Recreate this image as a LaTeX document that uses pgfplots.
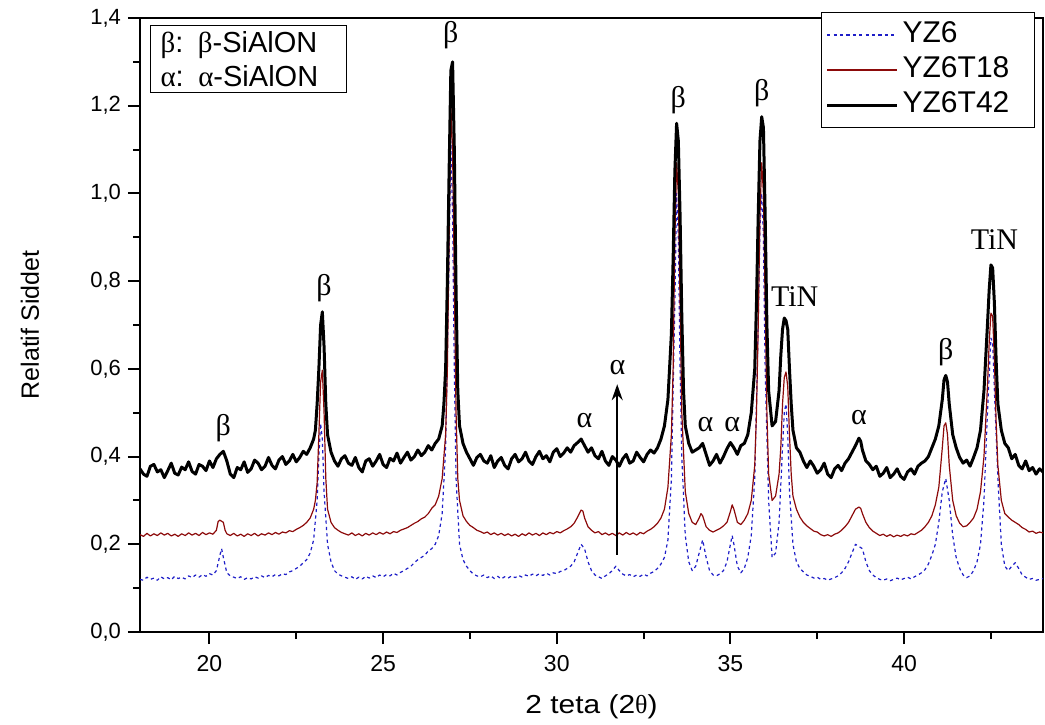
\documentclass[border=0pt]{standalone}
\usepackage{fontspec}
\setmainfont{Liberation Sans}
\newfontfamily\serif{Liberation Serif}
\newfontfamily\widesans[FakeStretch=1.15]{Liberation Sans}
\usepackage{pgfplots}
\pgfplotsset{compat=1.18}
\usetikzlibrary{arrows.meta}

\definecolor{yzblue}{RGB}{30,30,200}
\definecolor{yzred}{RGB}{140,10,10}

\begin{document}
\begin{tikzpicture}
\begin{axis}[
    scale only axis,
    width=451.5pt, height=307pt,
    xmin=18, xmax=44, ymin=0, ymax=1.4,
    xtick={20,25,30,35,40},
    minor xtick={22.5,27.5,32.5,37.5,42.5},
    ytick={0,0.2,...,1.4},
    minor ytick={0.1,0.3,...,1.3},
    xtick pos=bottom, ytick pos=left,
    tick align=outside,
    major tick length=6pt, minor tick length=3.5pt,
    every tick/.style={line width=1pt, black},
    axis line style={line width=1.2pt},
    /pgf/number format/assume math mode=true,
    yticklabel style={font=\fontsize{11}{12}\selectfont, /pgf/number format/.cd, use comma, fixed, fixed zerofill, precision=1},
    xticklabel style={font=\fontsize{11.5}{12}\selectfont, yshift=-2pt},
    ylabel={Relatif Siddet},
    ylabel style={font=\fontsize{12.5}{14}\selectfont, at={(axis description cs:-0.122,0.5)}, anchor=center},
    xlabel={2 teta (2{\serif θ})},
    xlabel style={font=\widesans\fontsize{13}{14}\selectfont, at={(axis description cs:0.5,-0.122)}, anchor=center},
    legend style={at={(axis description cs:0.7542,1.0098)}, anchor=north west,
        draw=black, line width=0.6pt, font=\fontsize{15}{16}\selectfont,
        inner xsep=2pt, inner ysep=2pt, row sep=-1pt,
        nodes={text height=11pt, text depth=3.5pt}},
    legend cell align=left,
    legend image code/.code={\draw[#1] (0pt,0pt) -- (35pt,0pt);},
    every axis plot/.append style={line join=round},
]
\coordinate (sw) at (rel axis cs:0,0);
\coordinate (ne) at (rel axis cs:1,1);

% YZ6
\addplot[yzblue, line width=0.6pt, dash pattern=on 1.6pt off 1.6pt] coordinates {
(18.0,.120)(18.1,.118)(18.2,.125)(18.3,.120)(18.4,.123)(18.5,.118)(18.6,.126)(18.7,.121)(18.8,.124)(18.9,.119)
(19.0,.127)(19.1,.122)(19.2,.125)(19.3,.121)(19.4,.128)(19.5,.124)(19.6,.130)(19.7,.125)(19.8,.131)(19.9,.127)
(20.0,.133)(20.1,.130)(20.2,.140)(20.3,.175)(20.35,.190)(20.4,.170)(20.5,.135)(20.6,.128)(20.7,.125)(20.8,.122)
(20.9,.126)(21.0,.120)(21.1,.124)(21.2,.121)(21.3,.126)(21.4,.123)(21.5,.128)(21.6,.124)(21.7,.129)(21.8,.126)
(21.9,.131)(22.0,.128)(22.1,.133)(22.2,.131)(22.3,.137)(22.4,.140)(22.5,.145)(22.6,.150)(22.7,.158)(22.8,.165)
(22.9,.180)(23.0,.210)(23.1,.300)(23.15,.400)(23.2,.475)(23.25,.440)(23.3,.320)(23.4,.200)(23.5,.160)(23.6,.140)
(23.7,.132)(23.8,.128)(23.9,.125)(24.0,.122)(24.1,.126)(24.2,.120)(24.3,.125)(24.4,.121)(24.5,.127)(24.6,.123)
(24.7,.128)(24.8,.124)(24.9,.130)(25.0,.126)(25.1,.131)(25.2,.128)(25.3,.134)(25.4,.130)(25.5,.136)(25.6,.140)
(25.7,.145)(25.8,.150)(25.9,.158)(26.0,.165)(26.1,.170)(26.2,.175)(26.3,.185)(26.4,.190)(26.5,.200)(26.6,.220)
(26.7,.270)(26.8,.420)(26.9,.850)(26.95,1.12)(27.0,.950)(27.05,.600)(27.1,.350)(27.2,.200)(27.3,.165)(27.4,.150)
(27.5,.140)(27.6,.132)(27.7,.128)(27.8,.126)(27.9,.130)(28.0,.124)(28.1,.128)(28.2,.122)(28.3,.127)(28.4,.121)
(28.5,.126)(28.6,.123)(28.7,.128)(28.8,.124)(28.9,.129)(29.0,.125)(29.1,.130)(29.2,.127)(29.3,.132)(29.4,.128)
(29.5,.133)(29.6,.129)(29.7,.134)(29.8,.130)(29.9,.135)(30.0,.133)(30.1,.138)(30.2,.140)(30.3,.145)(30.4,.150)
(30.5,.160)(30.6,.180)(30.7,.200)(30.8,.190)(30.9,.160)(31.0,.140)(31.1,.130)(31.2,.126)(31.3,.122)(31.4,.128)
(31.5,.133)(31.6,.140)(31.7,.150)(31.8,.140)(31.9,.132)(32.0,.128)(32.1,.131)(32.2,.126)(32.3,.130)(32.4,.127)
(32.5,.132)(32.6,.128)(32.7,.134)(32.8,.138)(32.9,.145)(33.0,.155)(33.1,.170)(33.2,.210)(33.3,.350)(33.4,.750)
(33.45,1.00)(33.5,.900)(33.55,.600)(33.6,.400)(33.7,.220)(33.8,.160)(33.9,.140)(34.0,.150)(34.1,.180)(34.2,.210)
(34.3,.170)(34.4,.140)(34.5,.130)(34.6,.128)(34.7,.133)(34.8,.140)(34.9,.160)(35.0,.200)(35.05,.220)(35.1,.200)
(35.2,.150)(35.3,.135)(35.4,.145)(35.5,.170)(35.6,.220)(35.7,.350)(35.8,.700)(35.85,.920)(35.9,1.00)(35.95,.900)
(36.0,.600)(36.1,.300)(36.2,.170)(36.3,.180)(36.4,.250)(36.5,.420)(36.55,.500)(36.6,.520)(36.65,.450)(36.7,.320)
(36.8,.200)(36.9,.160)(37.0,.145)(37.1,.137)(37.2,.130)(37.3,.127)(37.4,.123)(37.5,.125)(37.6,.120)(37.7,.122)
(37.8,.118)(37.9,.121)(38.0,.124)(38.1,.128)(38.2,.135)(38.3,.145)(38.4,.160)(38.5,.180)(38.6,.200)(38.7,.195)
(38.8,.190)(38.9,.160)(39.0,.140)(39.1,.130)(39.2,.124)(39.3,.120)(39.4,.118)(39.5,.121)(39.6,.117)(39.7,.120)
(39.8,.123)(39.9,.119)(40.0,.122)(40.1,.125)(40.2,.121)(40.3,.126)(40.4,.130)(40.5,.135)(40.6,.142)(40.7,.155)
(40.8,.175)(40.9,.200)(41.0,.250)(41.1,.320)(41.2,.350)(41.3,.300)(41.4,.220)(41.5,.170)(41.6,.145)(41.7,.130)
(41.8,.124)(41.9,.128)(42.0,.140)(42.1,.160)(42.2,.200)(42.3,.300)(42.4,.500)(42.5,.670)(42.55,.660)(42.6,.550)
(42.7,.350)(42.8,.200)(42.9,.150)(43.0,.140)(43.1,.150)(43.2,.158)(43.3,.145)(43.4,.130)(43.5,.125)(43.6,.120)
(43.7,.122)(43.8,.118)(43.9,.120)(44.0,.122)};
\addlegendentry{\makebox[62pt][l]{YZ6}}

% YZ6T18
\addplot[yzred, line width=0.6pt] coordinates {
(18.0,.222)(18.1,.218)(18.2,.225)(18.3,.219)(18.4,.224)(18.5,.220)(18.6,.226)(18.7,.221)(18.8,.225)(18.9,.219)
(19.0,.223)(19.1,.218)(19.2,.224)(19.3,.220)(19.4,.226)(19.5,.221)(19.6,.225)(19.7,.220)(19.8,.227)(19.9,.222)
(20.0,.226)(20.1,.223)(20.2,.232)(20.25,.252)(20.3,.255)(20.4,.250)(20.45,.232)(20.5,.224)(20.6,.220)(20.7,.225)
(20.8,.219)(20.9,.223)(21.0,.218)(21.1,.224)(21.2,.220)(21.3,.225)(21.4,.219)(21.5,.224)(21.6,.221)(21.7,.226)
(21.8,.222)(21.9,.227)(22.0,.223)(22.1,.228)(22.2,.226)(22.3,.231)(22.4,.229)(22.5,.234)(22.6,.238)(22.7,.243)
(22.8,.250)(22.9,.260)(23.0,.280)(23.05,.300)(23.1,.340)(23.15,.450)(23.2,.570)(23.25,.597)(23.3,.500)(23.35,.350)
(23.4,.280)(23.5,.250)(23.6,.238)(23.7,.232)(23.8,.227)(23.9,.224)(24.0,.221)(24.1,.226)(24.2,.220)(24.3,.224)
(24.4,.219)(24.5,.225)(24.6,.221)(24.7,.226)(24.8,.222)(24.9,.227)(25.0,.223)(25.1,.228)(25.2,.224)(25.3,.229)
(25.4,.227)(25.5,.232)(25.6,.235)(25.7,.238)(25.8,.243)(25.9,.248)(26.0,.252)(26.1,.258)(26.2,.262)(26.3,.270)
(26.4,.282)(26.5,.290)(26.6,.310)(26.7,.350)(26.8,.450)(26.85,.600)(26.9,.900)(26.95,1.20)(27.0,1.10)(27.05,.800)
(27.1,.500)(27.15,.350)(27.2,.300)(27.3,.265)(27.4,.252)(27.5,.243)(27.6,.238)(27.7,.232)(27.8,.229)(27.9,.225)
(28.0,.228)(28.1,.222)(28.2,.226)(28.3,.221)(28.4,.225)(28.5,.220)(28.6,.224)(28.7,.219)(28.8,.223)(28.9,.218)
(29.0,.224)(29.1,.220)(29.2,.226)(29.3,.221)(29.4,.225)(29.5,.220)(29.6,.226)(29.7,.222)(29.8,.227)(29.9,.224)
(30.0,.229)(30.1,.226)(30.2,.231)(30.3,.235)(30.4,.240)(30.5,.248)(30.6,.262)(30.7,.278)(30.75,.276)(30.8,.260)
(30.9,.240)(31.0,.232)(31.1,.226)(31.2,.229)(31.3,.222)(31.4,.226)(31.5,.221)(31.6,.225)(31.7,.220)(31.8,.226)
(31.9,.221)(32.0,.227)(32.1,.222)(32.2,.226)(32.3,.221)(32.4,.227)(32.5,.224)(32.6,.230)(32.7,.234)(32.8,.240)
(32.9,.248)(33.0,.260)(33.1,.280)(33.2,.330)(33.3,.450)(33.35,.600)(33.4,.900)(33.45,1.07)(33.5,1.00)(33.55,.750)
(33.6,.500)(33.7,.320)(33.8,.270)(33.9,.250)(34.0,.245)(34.1,.260)(34.15,.270)(34.2,.265)(34.3,.240)(34.4,.232)
(34.5,.228)(34.6,.232)(34.7,.236)(34.8,.242)(34.9,.250)(35.0,.275)(35.05,.290)(35.1,.280)(35.2,.250)(35.3,.245)
(35.4,.255)(35.5,.270)(35.6,.300)(35.7,.380)(35.75,.500)(35.8,.700)(35.85,.950)(35.9,1.07)(35.95,1.00)(36.0,.750)
(36.05,.500)(36.1,.360)(36.2,.300)(36.3,.310)(36.4,.360)(36.45,.420)(36.5,.520)(36.55,.580)(36.6,.593)(36.65,.560)
(36.7,.450)(36.75,.360)(36.8,.310)(36.9,.280)(37.0,.262)(37.1,.250)(37.2,.242)(37.3,.236)(37.4,.230)(37.5,.228)
(37.6,.222)(37.7,.219)(37.8,.222)(37.9,.218)(38.0,.223)(38.1,.226)(38.2,.232)(38.3,.240)(38.4,.250)(38.5,.265)
(38.6,.280)(38.7,.285)(38.75,.282)(38.8,.270)(38.9,.250)(39.0,.238)(39.1,.230)(39.2,.225)(39.3,.220)(39.4,.223)
(39.5,.218)(39.6,.222)(39.7,.217)(39.8,.221)(39.9,.218)(40.0,.222)(40.1,.219)(40.2,.224)(40.3,.222)(40.4,.227)
(40.5,.232)(40.6,.240)(40.7,.250)(40.8,.265)(40.9,.290)(41.0,.330)(41.1,.420)(41.15,.470)(41.2,.477)(41.25,.450)
(41.3,.380)(41.4,.300)(41.5,.265)(41.6,.248)(41.7,.240)(41.8,.242)(41.9,.250)(42.0,.260)(42.1,.280)(42.2,.320)
(42.3,.400)(42.4,.560)(42.45,.660)(42.5,.727)(42.55,.720)(42.6,.620)(42.65,.480)(42.7,.380)(42.8,.300)(42.9,.270)
(43.0,.262)(43.1,.255)(43.2,.250)(43.3,.245)(43.4,.238)(43.5,.234)(43.6,.228)(43.7,.230)(43.8,.225)(43.9,.228)
(44.0,.226)};
\addlegendentry{\makebox[62pt][l]{YZ6T18}}

% YZ6T42
\addplot[black, line width=1.5pt] coordinates {
(18.0,.372)(18.1,.360)(18.2,.355)(18.3,.378)(18.4,.382)(18.5,.365)(18.6,.370)(18.7,.352)(18.8,.368)(18.9,.385)
(19.0,.362)(19.1,.358)(19.2,.376)(19.3,.370)(19.4,.388)(19.5,.366)(19.6,.360)(19.7,.382)(19.8,.378)(19.9,.368)
(20.0,.390)(20.1,.375)(20.2,.395)(20.3,.405)(20.4,.412)(20.5,.390)(20.6,.360)(20.7,.352)(20.8,.375)(20.9,.370)
(21.0,.388)(21.1,.364)(21.2,.372)(21.3,.392)(21.4,.385)(21.5,.370)(21.6,.378)(21.7,.398)(21.8,.380)(21.9,.372)
(22.0,.392)(22.1,.400)(22.2,.382)(22.3,.390)(22.4,.405)(22.5,.388)(22.6,.398)(22.7,.412)(22.8,.405)(22.9,.420)
(23.0,.440)(23.05,.460)(23.1,.520)(23.15,.600)(23.2,.700)(23.25,.730)(23.3,.650)(23.35,.520)(23.4,.450)(23.5,.410)
(23.6,.390)(23.7,.378)(23.8,.395)(23.9,.402)(24.0,.385)(24.1,.380)(24.2,.398)(24.3,.375)(24.4,.365)(24.5,.390)
(24.6,.395)(24.7,.378)(24.8,.390)(24.9,.405)(25.0,.382)(25.1,.375)(25.2,.396)(25.3,.390)(25.4,.408)(25.5,.385)
(25.6,.398)(25.7,.410)(25.8,.392)(25.9,.400)(26.0,.415)(26.1,.402)(26.2,.410)(26.3,.425)(26.4,.415)(26.5,.430)
(26.6,.440)(26.7,.470)(26.75,.520)(26.8,.600)(26.85,.800)(26.9,1.05)(26.95,1.28)(27.0,1.30)(27.05,1.10)(27.1,.780)
(27.15,.550)(27.2,.470)(27.3,.430)(27.4,.410)(27.5,.395)(27.6,.380)(27.7,.398)(27.8,.405)(27.9,.390)(28.0,.385)
(28.1,.402)(28.2,.375)(28.3,.390)(28.4,.398)(28.5,.380)(28.6,.372)(28.7,.395)(28.8,.405)(28.9,.388)(29.0,.395)
(29.1,.410)(29.2,.390)(29.3,.382)(29.4,.400)(29.5,.412)(29.6,.395)(29.7,.402)(29.8,.388)(29.9,.410)(30.0,.418)
(30.1,.400)(30.2,.408)(30.3,.420)(30.4,.410)(30.5,.425)(30.6,.432)(30.7,.440)(30.8,.425)(30.9,.410)(31.0,.420)
(31.1,.402)(31.2,.395)(31.3,.412)(31.4,.390)(31.5,.380)(31.6,.400)(31.7,.392)(31.8,.378)(31.9,.395)(32.0,.405)
(32.1,.385)(32.2,.390)(32.3,.410)(32.4,.398)(32.5,.388)(32.6,.405)(32.7,.415)(32.8,.408)(32.9,.420)(33.0,.440)
(33.1,.470)(33.2,.530)(33.3,.680)(33.35,.850)(33.4,1.05)(33.45,1.16)(33.5,1.12)(33.55,.950)(33.6,.720)(33.65,.550)
(33.7,.470)(33.8,.430)(33.9,.410)(34.0,.415)(34.1,.420)(34.2,.430)(34.3,.405)(34.4,.380)(34.5,.390)(34.6,.405)
(34.7,.385)(34.8,.400)(34.9,.418)(35.0,.432)(35.1,.420)(35.2,.405)(35.3,.425)(35.4,.430)(35.5,.450)(35.6,.500)
(35.7,.600)(35.75,.750)(35.8,.950)(35.85,1.12)(35.9,1.175)(35.95,1.15)(36.0,.950)(36.05,.700)(36.1,.550)(36.2,.470)
(36.3,.480)(36.4,.550)(36.45,.630)(36.5,.690)(36.55,.716)(36.6,.710)(36.65,.690)(36.7,.600)(36.75,.520)(36.8,.460)
(36.9,.420)(37.0,.410)(37.1,.390)(37.2,.375)(37.3,.390)(37.4,.378)(37.5,.362)(37.6,.370)(37.7,.385)(37.8,.360)
(37.9,.352)(38.0,.372)(38.1,.380)(38.2,.368)(38.3,.385)(38.4,.395)(38.5,.410)(38.6,.425)(38.7,.442)(38.75,.435)
(38.8,.415)(38.9,.390)(39.0,.382)(39.1,.370)(39.2,.378)(39.3,.355)(39.4,.362)(39.5,.375)(39.6,.352)(39.7,.360)
(39.8,.372)(39.9,.355)(40.0,.348)(40.1,.365)(40.2,.372)(40.3,.360)(40.4,.378)(40.5,.385)(40.6,.390)(40.7,.400)
(40.8,.420)(40.9,.440)(41.0,.470)(41.1,.530)(41.15,.575)(41.2,.585)(41.25,.570)(41.3,.520)(41.4,.450)(41.5,.420)
(41.6,.398)(41.7,.385)(41.8,.392)(41.9,.378)(42.0,.398)(42.1,.420)(42.2,.460)(42.3,.550)(42.4,.700)(42.45,.780)
(42.5,.837)(42.55,.830)(42.6,.750)(42.65,.620)(42.7,.520)(42.8,.460)(42.9,.430)(43.0,.420)(43.1,.395)(43.2,.405)
(43.3,.380)(43.4,.372)(43.5,.390)(43.6,.368)(43.7,.375)(43.8,.360)(43.9,.372)(44.0,.365)};
\addlegendentry{\makebox[62pt][l]{YZ6T42}}

% phase key
\node[draw, line width=0.6pt, anchor=north west, align=left, text width=88pt,
      inner xsep=5pt, inner ysep=3pt, font=\fontsize{14.5}{17}\selectfont]
  at (axis description cs:0.011,0.989)
  {{\serif β}: {\serif β}-SiAlON\\{\serif α}: {\serif α}-SiAlON};

% peak labels
\begin{scope}[every node/.style={font=\serif\fontsize{15}{16}\selectfont}]
\node at (axis cs:20.4,0.465) {β};
\node at (axis cs:23.3,0.785) {β};
\node at (axis cs:26.95,1.36) {β};
\node at (axis cs:30.8,0.483) {α};
\node at (axis cs:31.75,0.604) {α};
\node at (axis cs:33.5,1.213) {β};
\node at (axis cs:34.28,0.472) {α};
\node at (axis cs:35.05,0.472) {α};
\node at (axis cs:35.9,1.229) {β};
\node at (axis cs:36.85,0.764) {TiN};
\node at (axis cs:38.7,0.488) {α};
\node at (axis cs:41.2,0.638) {β};
\node at (axis cs:42.6,0.894) {TiN};
\end{scope}
\draw[-{Stealth[length=8pt,width=5.5pt]}, line width=0.9pt] (axis cs:31.74,0.176) -- (axis cs:31.74,0.565);
\end{axis}
\pgfresetboundingbox
\path ([shift={(-70pt,-46pt)}]sw) rectangle ([shift={(1pt,9pt)}]ne);
\end{tikzpicture}
\end{document}
